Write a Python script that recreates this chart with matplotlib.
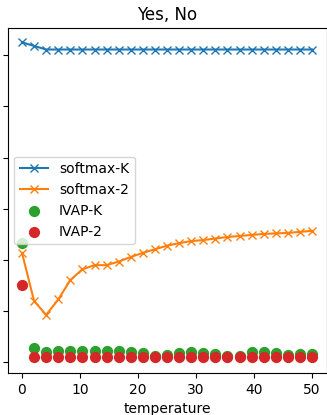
import numpy as np
import matplotlib
matplotlib.use("Agg")
import matplotlib.pyplot as plt

temperature = np.linspace(0, 50, 25)

softmax_K = [0.625, 0.618, 0.611, 0.611, 0.611, 0.611, 0.611, 0.611, 0.611, 0.611,
             0.611, 0.611, 0.611, 0.611, 0.611, 0.611, 0.611, 0.611, 0.611, 0.611,
             0.611, 0.611, 0.611, 0.611, 0.611]
softmax_2 = [0.214, 0.120, 0.093, 0.123, 0.161, 0.182, 0.190, 0.190, 0.197, 0.206,
             0.214, 0.221, 0.228, 0.233, 0.237, 0.239, 0.242, 0.245, 0.247, 0.249,
             0.251, 0.252, 0.253, 0.255, 0.257]
ivap_K = [0.234, 0.028, 0.021, 0.023, 0.023, 0.022, 0.023, 0.023, 0.023, 0.020,
          0.019, 0.013, 0.014, 0.019, 0.020, 0.018, 0.016, 0.013, 0.013, 0.021,
          0.021, 0.018, 0.015, 0.017, 0.016]
ivap_2 = [0.151, 0.011, 0.011, 0.011, 0.011, 0.011, 0.011, 0.011, 0.011, 0.011,
          0.011, 0.011, 0.011, 0.011, 0.011, 0.011, 0.011, 0.010, 0.010, 0.011,
          0.011, 0.011, 0.011, 0.011, 0.011]
yticks = [0.0, 0.1, 0.2, 0.3, 0.4, 0.5, 0.6]

fig = plt.figure(figsize=(3.27, 4.15), dpi=100)
ax = fig.add_axes([7.5/327, (415-373)/415, (326.5-7.5)/327, (373-28)/415])
ax.plot(temperature, softmax_K, marker='x', color='C0', label='softmax-K')
ax.plot(temperature, softmax_2, marker='x', color='C1', label='softmax-2')
ax.scatter(temperature, ivap_K, color='C2', s=50, label='IVAP-K')
ax.scatter(temperature, ivap_2, color='C3', s=50, label='IVAP-2')
ax.set_ylim(-0.0205, 0.653)
ax.set_yticks(yticks)
ax.set_yticklabels([])
ax.set_xlabel('temperature')
ax.set_title('Yes, No')
ax.legend(loc='center left')
fig.savefig('out.png', dpi=100)
